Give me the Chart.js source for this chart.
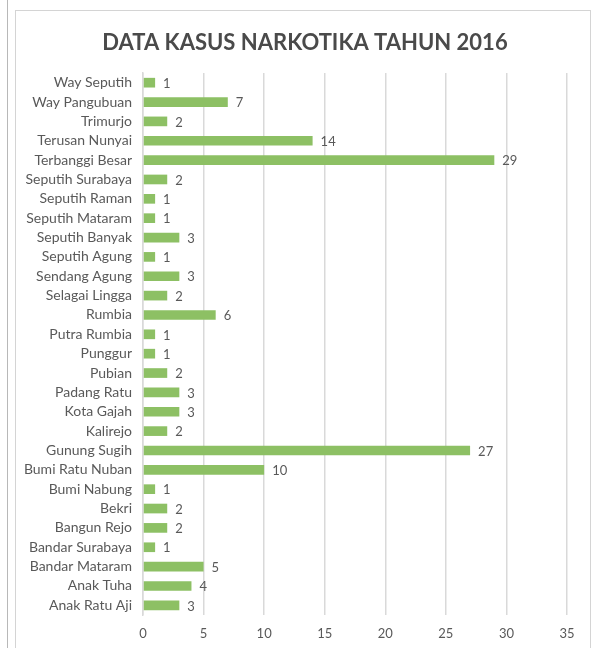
<!DOCTYPE html>
<html>
<head>
<meta charset="utf-8">
<script src="https://cdn.jsdelivr.net/npm/chart.js@4"></script>
<style>
  html, body { margin: 0; padding: 0; background: #fff; }
  body { width: 592px; height: 648px; position: relative; overflow: hidden; }
  .edge { position: absolute; left: 7px; top: 0; width: 1px; height: 648px; background: #b8b8b8; }
  .frame { position: absolute; left: 15px; top: 10px; width: 574px; height: 660px; border: 1px solid #d4d4d4; }
  #kasusChart { position: absolute; left: 0; top: 0; }
</style>
</head>
<body>
<div class="edge"></div>
<div class="frame"></div>
<canvas id="kasusChart" width="592" height="648"></canvas>
<script>
// kecamatan & jumlah kasus
const kecamatan = [
  'Way Seputih', 'Way Pangubuan', 'Trimurjo', 'Terusan Nunyai', 'Terbanggi Besar',
  'Seputih Surabaya', 'Seputih Raman', 'Seputih Mataram', 'Seputih Banyak', 'Seputih Agung',
  'Sendang Agung', 'Selagai Lingga', 'Rumbia', 'Putra Rumbia', 'Punggur', 'Pubian',
  'Padang Ratu', 'Kota Gajah', 'Kalirejo', 'Gunung Sugih', 'Bumi Ratu Nuban', 'Bumi Nabung',
  'Bekri', 'Bangun Rejo', 'Bandar Surabaya', 'Bandar Mataram', 'Anak Tuha', 'Anak Ratu Aji'
];
const jumlahKasus = [1, 7, 2, 14, 29, 2, 1, 1, 3, 1, 3, 2, 6, 1, 1, 2, 3, 3, 2, 27, 10, 1, 2, 2, 1, 5, 4, 3];
const sumbuX = [0, 5, 10, 15, 20, 25, 30, 35];
const judul = 'DATA KASUS NARKOTIKA TAHUN 2016';

const abu = '#595959';

// judul + label angka di ujung batang
const labelNilai = {
  id: 'labelNilai',
  afterDatasetsDraw(chart) {
    const ctx = chart.ctx;
    const meta = chart.getDatasetMeta(0);
    ctx.save();
    ctx.textBaseline = 'middle';
    ctx.textAlign = 'center';
    ctx.font = 'bold 22px Lato';
    ctx.fillStyle = '#4a4a4a';
    ctx.fillText(judul, 305, 43);

    ctx.font = '13px Lato';
    ctx.fillStyle = abu;
    ctx.textAlign = 'left';
    meta.data.forEach((bar, i) => {
      ctx.fillText(jumlahKasus[i], bar.x + 8, bar.y + 1);
    });
    ctx.restore();
  }
};

const ctx = document.getElementById('kasusChart').getContext('2d');
new Chart(ctx, {
  type: 'bar',
  data: {
    labels: kecamatan,
    datasets: [{
      data: jumlahKasus,
      backgroundColor: '#8dc064',
      borderWidth: 0,
      categoryPercentage: 0.5,
      barPercentage: 1
    }]
  },
  options: {
    indexAxis: 'y',
    responsive: false,
    animation: false,
    layout: { padding: { top: 73, right: 25, bottom: 0, left: 0 } },
    plugins: {
      legend: { display: false },
      tooltip: { enabled: false },
      title: { display: false }
    },
    scales: {
      x: {
        min: sumbuX[0],
        max: sumbuX[sumbuX.length - 1],
        afterBuildTicks: (s) => { s.ticks = sumbuX.map(v => ({ value: v })); },
        afterFit: (s) => { s.height = 33; },
        grid: { color: '#d9d9d9', lineWidth: 1.5, drawTicks: false },
        border: { display: false },
        ticks: { color: abu, font: { family: 'Lato', size: 13 }, padding: 11 }
      },
      y: {
        afterFit: (s) => { s.width = 143; },
        grid: { display: false, drawTicks: false },
        border: { display: true, color: '#d9d9d9', width: 1.5 },
        ticks: { color: abu, font: { family: 'Lato', size: 14 }, padding: 11, autoSkip: false }
      }
    }
  },
  plugins: [labelNilai]
});
</script>
</body>
</html>
